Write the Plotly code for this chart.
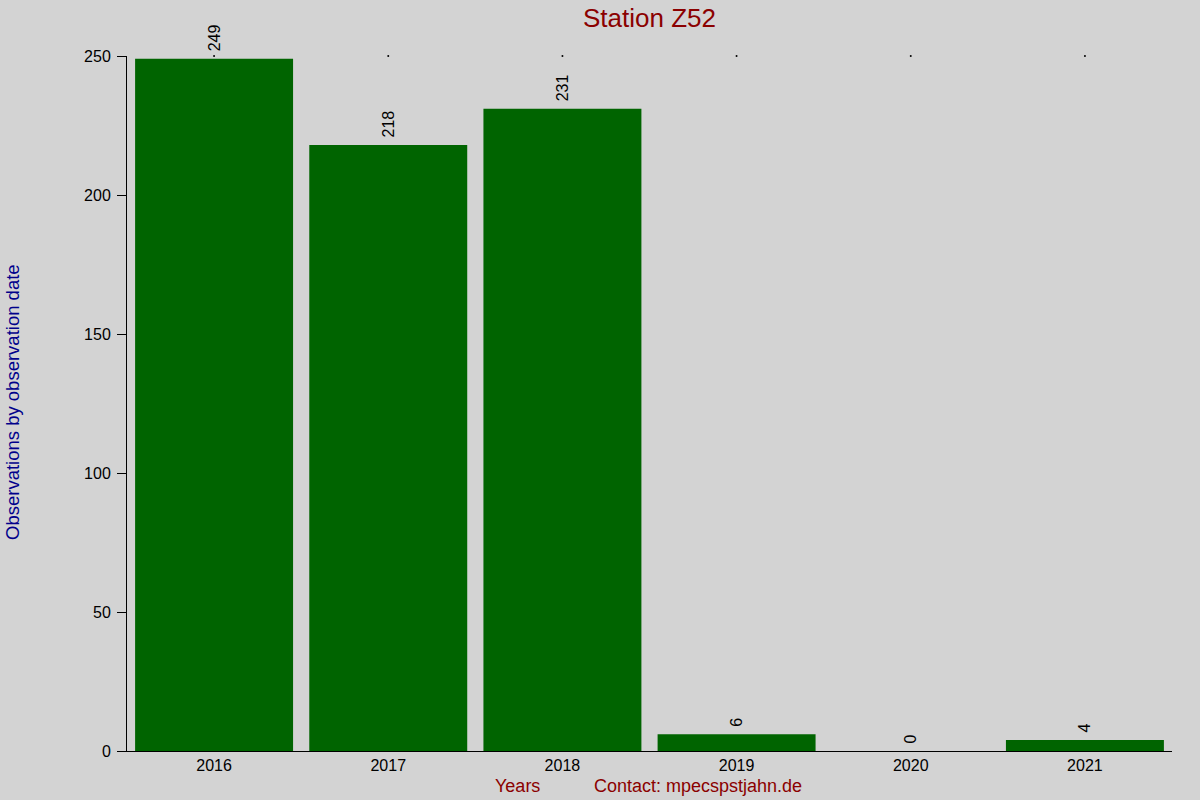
import plotly.graph_objects as go

years = ["2016", "2017", "2018", "2019", "2020", "2021"]
counts = [249, 218, 231, 6, 0, 4]
y_ticks = [0, 50, 100, 150, 200, 250]

fig = go.Figure()
fig.add_trace(go.Bar(
    x=years,
    y=counts,
    marker=dict(color="#006400", line=dict(width=0)),
    # leading no-break space leaves a small gap above each bar
    text=["\u00a0" + str(c) for c in counts],
    textposition="outside",
    textangle=-90,
    textfont=dict(family="Liberation Sans, Arial", size=16, color="black"),
    cliponaxis=False,
))
# small dots along the top edge at each category
fig.add_trace(go.Scatter(
    x=years,
    y=[y_ticks[-1]] * len(years),
    mode="markers",
    marker=dict(color="black", size=2),
    cliponaxis=False,
    hoverinfo="skip",
))

fig.update_layout(
    width=1200,
    height=800,
    paper_bgcolor="#d3d3d3",
    plot_bgcolor="#d3d3d3",
    showlegend=False,
    bargap=0.093,
    margin=dict(l=127, r=28, t=56, b=49),
    font=dict(family="Liberation Sans, Arial", size=16, color="black"),
    title=dict(
        text="Station Z52",
        x=(127 + 1172) / 2 / 1200,
        xanchor="center",
        y=1 - 18 / 800,
        yanchor="middle",
        font=dict(size=26, color="#8b0000"),
    ),
)
fig.update_xaxes(
    showline=True,
    linecolor="black",
    linewidth=1,
    showgrid=False,
    ticks="",
    tickfont=dict(size=16),
    fixedrange=True,
)
fig.update_yaxes(
    range=[0, 250],
    tickvals=y_ticks,
    showline=True,
    linecolor="black",
    linewidth=1,
    showgrid=False,
    zeroline=False,
    ticks="outside",
    ticklen=9,
    tickcolor="black",
    tickfont=dict(size=16),
    ticklabelstandoff=3,
)
fig.add_annotation(
    text="Observations by observation date", xref="paper", yref="paper",
    x=(12 - 127) / 1045, y=(751 - 402) / 695, textangle=-90,
    showarrow=False, font=dict(size=18.5, color="#00008b"),
    xanchor="center", yanchor="middle",
)
fig.add_annotation(
    text="Years", xref="paper", yref="paper", x=(517 - 127) / 1045, y=-(786 - 751) / 695,
    showarrow=False, font=dict(size=18, color="#8b0000"),
    xanchor="center", yanchor="middle",
)
fig.add_annotation(
    text="Contact: mpecspstjahn.de", xref="paper", yref="paper", x=(698 - 127) / 1045,
    y=-(786 - 751) / 695,
    showarrow=False, font=dict(size=18, color="#8b0000"),
    xanchor="center", yanchor="middle",
)

fig.write_html(
    "out.html",
    config={"displayModeBar": False},
    post_script="document.body.style.margin='0';",
)
